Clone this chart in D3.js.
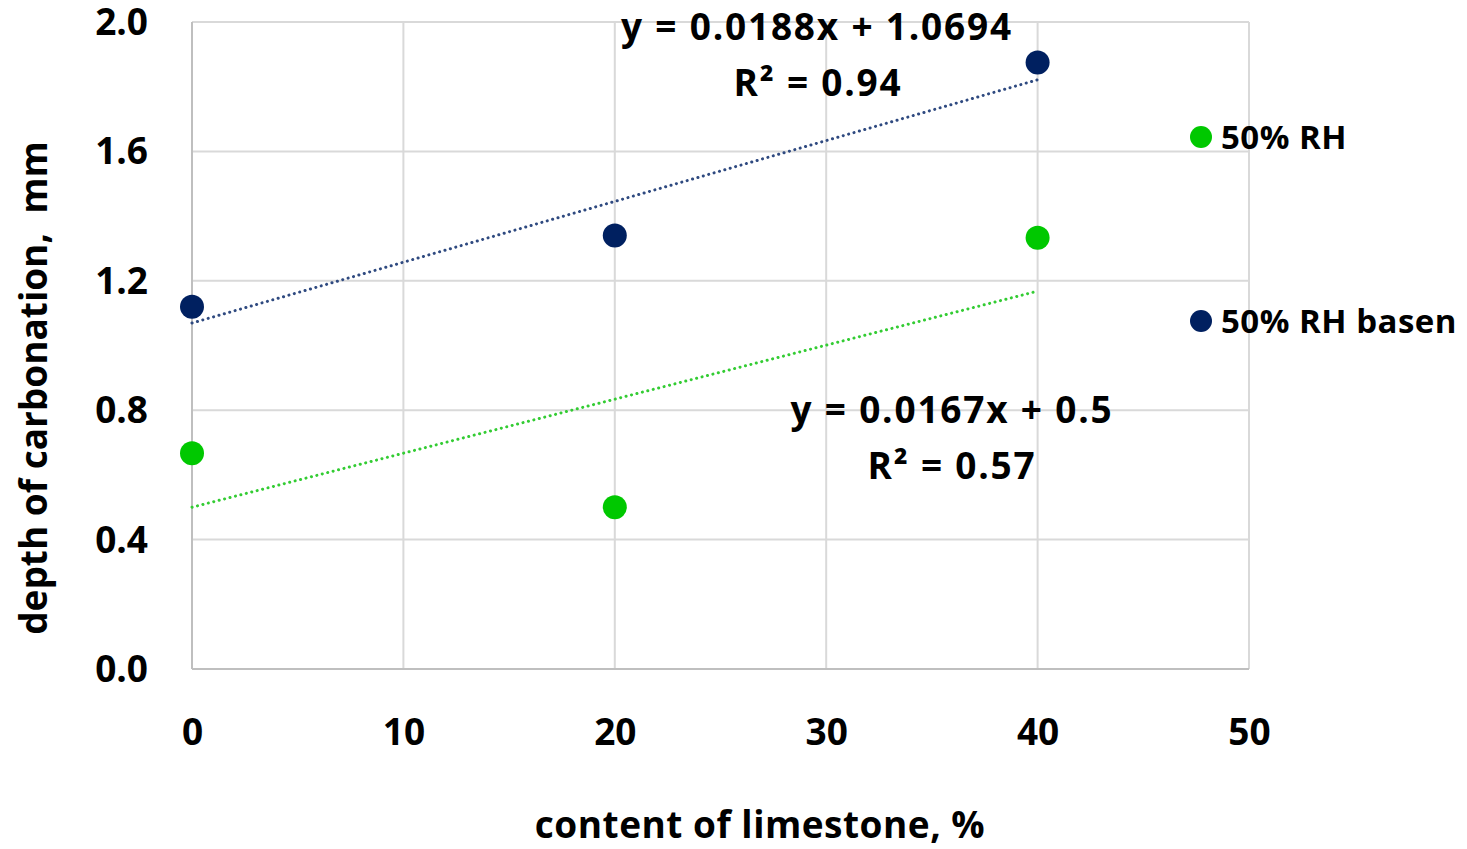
<!DOCTYPE html>
<html>
<head>
<meta charset="utf-8">
<script src="https://cdn.jsdelivr.net/npm/d3@7"></script>
<style>
  body { margin: 0; background: #fff; }
  text { font-family: "Open Sans", Lato, sans-serif; font-weight: bold; fill: #000; }
</style>
</head>
<body>
<div id="chart"></div>
<script>
// data
const xValues = [0, 20, 40];
const rhValues = [0.667, 0.50, 1.333];
const basenValues = [1.12, 1.34, 1.875];
const seriesNames = ["50% RH", "50% RH basen"];
const trendRh = { slope: 0.0167, intercept: 0.5, label: "y = 0.0167x + 0.5", r2: "R² = 0.57" };
const trendBasen = { slope: 0.0188, intercept: 1.0694, label: "y = 0.0188x + 1.0694", r2: "R² = 0.94" };
const xTicks = [0, 10, 20, 30, 40, 50];
const yTicks = [0, 0.4, 0.8, 1.2, 1.6, 2.0];

const width = 1467, height = 849;
const margin = { top: 22, right: 218, bottom: 180, left: 192 };
const innerW = width - margin.left - margin.right,
      innerH = height - margin.top - margin.bottom;

const svg = d3.select("#chart").append("svg")
    .attr("width", width)
    .attr("height", height);

const g = svg.append("g")
    .attr("transform", `translate(${margin.left},${margin.top})`);

const x = d3.scaleLinear().domain([0, 50]).range([0, innerW]);
const y = d3.scaleLinear().domain([0, 2]).range([innerH, 0]);

const green = "#00c800", navy = "#002060";

// gridlines
g.selectAll(".hgrid").data(yTicks).enter().append("line")
    .attr("x1", 0).attr("x2", innerW)
    .attr("y1", d => y(d)).attr("y2", d => y(d))
    .attr("stroke", "#d9d9d9").attr("stroke-width", 2);
g.selectAll(".vgrid").data(xTicks).enter().append("line")
    .attr("y1", 0).attr("y2", innerH)
    .attr("x1", d => x(d)).attr("x2", d => x(d))
    .attr("stroke", "#d9d9d9").attr("stroke-width", 2);

// axis lines
g.append("line").attr("x1", 0).attr("x2", innerW).attr("y1", innerH).attr("y2", innerH)
    .attr("stroke", "#bfbfbf").attr("stroke-width", 2);
g.append("line").attr("x1", 0).attr("x2", 0).attr("y1", 0).attr("y2", innerH)
    .attr("stroke", "#bfbfbf").attr("stroke-width", 2);

// axes (labels only)
const xAxis = g.append("g")
    .attr("transform", `translate(0,${innerH})`)
    .call(d3.axisBottom(x).tickValues(xTicks).tickSize(0).tickPadding(50).tickFormat(d3.format("d")));
xAxis.select(".domain").remove();
xAxis.selectAll("text").style("font-size", "37px");

const yAxis = g.append("g")
    .call(d3.axisLeft(y).tickValues(yTicks).tickSize(0).tickPadding(44).tickFormat(d3.format(".1f")));
yAxis.select(".domain").remove();
yAxis.selectAll("text").style("font-size", "37px").attr("dy", "0.34em");

// axis titles
svg.append("text")
    .attr("x", 760).attr("y", 838)
    .attr("text-anchor", "middle")
    .style("font-size", "37px")
    .style("letter-spacing", "0.5px")
    .text("content of limestone, %");

svg.append("text")
    .attr("transform", "rotate(-90)")
    .attr("x", -388).attr("y", 47)
    .attr("text-anchor", "middle")
    .style("font-size", "37px")
    .style("white-space", "pre")
    .text("depth of carbonation,  mm");

// trend lines
const trendExtent = [0, 40];
[[trendBasen, "#2f4a80"], [trendRh, "#33cc33"]].forEach(([t, c]) => {
  g.append("line")
    .attr("x1", x(trendExtent[0])).attr("y1", y(t.intercept + t.slope * trendExtent[0]))
    .attr("x2", x(trendExtent[1])).attr("y2", y(t.intercept + t.slope * trendExtent[1]))
    .attr("stroke", c).attr("stroke-width", 3)
    .attr("stroke-dasharray", "0.1 5.5").attr("stroke-linecap", "round");
});

// points
const seriesData = [
  { name: seriesNames[0], color: green, values: rhValues },
  { name: seriesNames[1], color: navy, values: basenValues }
];
seriesData.forEach(s => {
  g.selectAll(null).data(xValues.map((xv, i) => [xv, s.values[i]])).enter().append("circle")
    .attr("cx", d => x(d[0])).attr("cy", d => y(d[1]))
    .attr("r", 12)
    .attr("fill", s.color);
});

// equation labels
const eqs = [
  [trendBasen.label, 817, 40], [trendBasen.r2, 818, 96],
  [trendRh.label, 952, 423], [trendRh.r2, 952, 479]
];
eqs.forEach(([t, ex, ey]) => {
  svg.append("text").attr("x", ex).attr("y", ey).attr("text-anchor", "middle")
    .style("font-size", "37px").style("letter-spacing", "1.8px").text(t);
});

// legend
const legend = svg.append("g").attr("transform", "translate(1201,137)");
seriesData.forEach((s, i) => {
  const row = legend.append("g").attr("transform", `translate(0,${i * 184})`);
  row.append("circle").attr("r", 11).attr("fill", s.color);
  row.append("text").attr("x", 20).attr("y", 12)
    .style("font-size", "33px").style("letter-spacing", "0.5px").text(s.name);
});
</script>
</body>
</html>
